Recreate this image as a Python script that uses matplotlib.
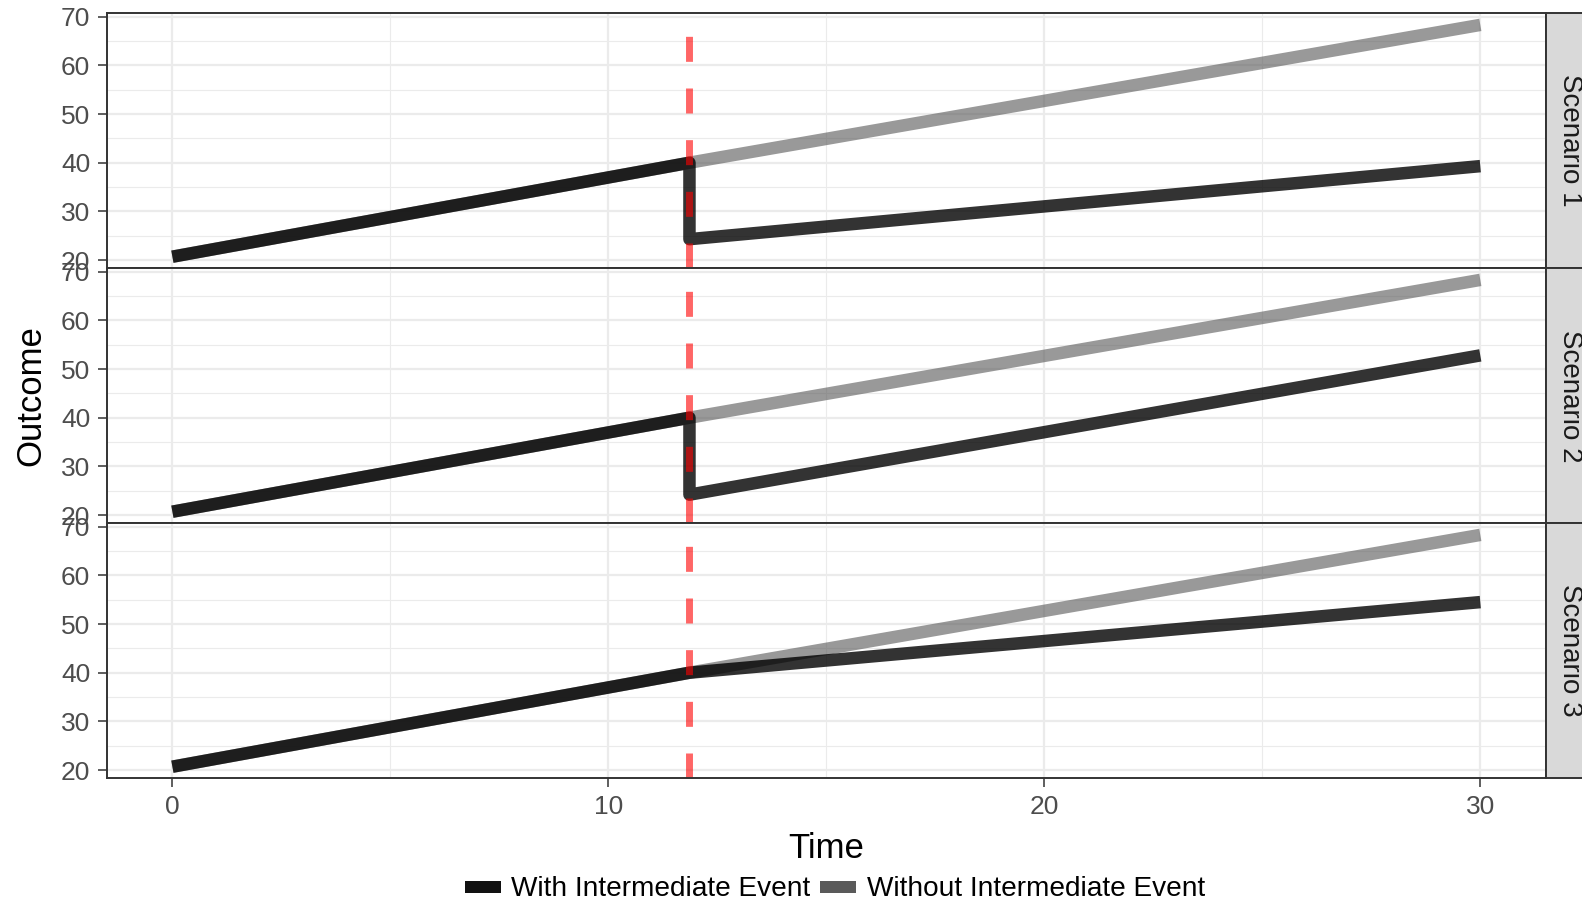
import matplotlib
matplotlib.use("Agg")
import matplotlib.pyplot as plt
from matplotlib.patches import Rectangle
import numpy as np

plt.rcParams['font.family'] = ['Liberation Sans', 'DejaVu Sans']
plt.rcParams['lines.scale_dashes'] = False

# ---------------- data ----------------
event_time = 11.86
scenarios = ["Scenario 1", "Scenario 2", "Scenario 3"]

# "Without Intermediate Event" (same in all scenarios)
without_time = [0, event_time, 30]
without_vals = [20.7, 40.0, 68.3]

# "With Intermediate Event" per scenario
with_time = {
    "Scenario 1": [0, event_time, event_time, 30],
    "Scenario 2": [0, event_time, event_time, 30],
    "Scenario 3": [0, event_time, 30],
}
with_vals = {
    "Scenario 1": [20.7, 40.0, 24.3, 39.3],
    "Scenario 2": [20.7, 40.0, 24.2, 52.8],
    "Scenario 3": [20.7, 40.0, 54.5],
}

x_major = [0, 10, 20, 30]
x_minor = [5, 15, 25]
y_major = [20, 30, 40, 50, 60, 70]
y_minor = [25, 35, 45, 55, 65]
legend_labels = ["With Intermediate Event", "Without Intermediate Event"]

# ---------------- layout ----------------
W, H = 1582, 901
fig = plt.figure(figsize=(W / 100, H / 100), dpi=100)

left_px, right_px = 107, 1545.7
top_px, panel_h = 13.3, 255.0
strip_right_px = 1594

all_y = without_vals + sum(with_vals.values(), [])
ymin, ymax = min(all_y), max(all_y)
yr = ymax - ymin
ylim = (ymin - 0.05 * yr, ymax + 0.05 * yr)
xlim = (-1.5, 31.5)

border_c = '#333333'
for i, sc in enumerate(scenarios):
    ptop = top_px + panel_h * i
    ax = fig.add_axes([left_px / W, 1 - (ptop + panel_h) / H,
                       (right_px - left_px) / W, panel_h / H])
    ax.set_xlim(*xlim)
    ax.set_ylim(*ylim)
    ax.set_xticks(x_major)
    ax.set_xticks(x_minor, minor=True)
    ax.set_yticks(y_major)
    ax.set_yticks(y_minor, minor=True)
    ax.grid(which='major', color='#ebebeb', lw=1.6)
    ax.grid(which='minor', color='#ebebeb', lw=0.8)
    ax.set_axisbelow(True)
    for s in ax.spines.values():
        s.set_color(border_c)
        s.set_linewidth(1.4)
        s.set_zorder(10)
    ax.tick_params(which='major', length=6.5, width=1.1, color=border_c,
                   pad=5.5, labelsize=19, labelcolor='#4d4d4d')
    ax.tick_params(which='minor', length=0)
    if i < 2:
        ax.tick_params(axis='x', which='both', bottom=False, labelbottom=False)

    ax.plot(without_time, without_vals, color='#555555', alpha=0.6, lw=9,
            solid_capstyle='butt', solid_joinstyle='round', zorder=3)
    ax.plot(with_time[sc], with_vals[sc], color='#000000', alpha=0.8, lw=9,
            solid_capstyle='butt', solid_joinstyle='round', zorder=4)
    ax.plot([event_time, event_time], [ylim[0], ylim[1]], color='#ff0000',
            alpha=0.6, lw=5, dashes=(18, 19.2), dash_capstyle='butt', zorder=5)

    # facet strip
    sax = fig.add_axes([right_px / W, 1 - (ptop + panel_h) / H,
                        (strip_right_px - right_px) / W, panel_h / H])
    sax.set_facecolor('#d9d9d9')
    sax.set_xticks([])
    sax.set_yticks([])
    for s in sax.spines.values():
        s.set_color(border_c)
        s.set_linewidth(1.4)
    sax.text(0.5, 0.5, sc, rotation=-90, ha='center', va='center',
             fontsize=20, color='#1a1a1a', transform=sax.transAxes)

# axis titles
fig.text(31 / W, 1 - 396 / H, "Outcome", rotation=90, ha='center', va='center',
         fontsize=25, color='black')
fig.text(826 / W, 1 - 858 / H, "Time", ha='center', va='baseline',
         fontsize=25, color='black')

# legend
key_colors = ['#111111', '#5a5a5a']
key_x = [465, 820]
text_x = [511, 867]
for kc, kx, tx, lab in zip(key_colors, key_x, text_x, legend_labels):
    fig.add_artist(Rectangle((kx / W, 1 - 893 / H), 36 / W, 12 / H,
                             transform=fig.transFigure, facecolor=kc,
                             edgecolor='none'))
    fig.text(tx / W, 1 - 896 / H, lab, ha='left', va='baseline',
             fontsize=20.2, color='black')

fig.savefig("out.png", dpi=100)
